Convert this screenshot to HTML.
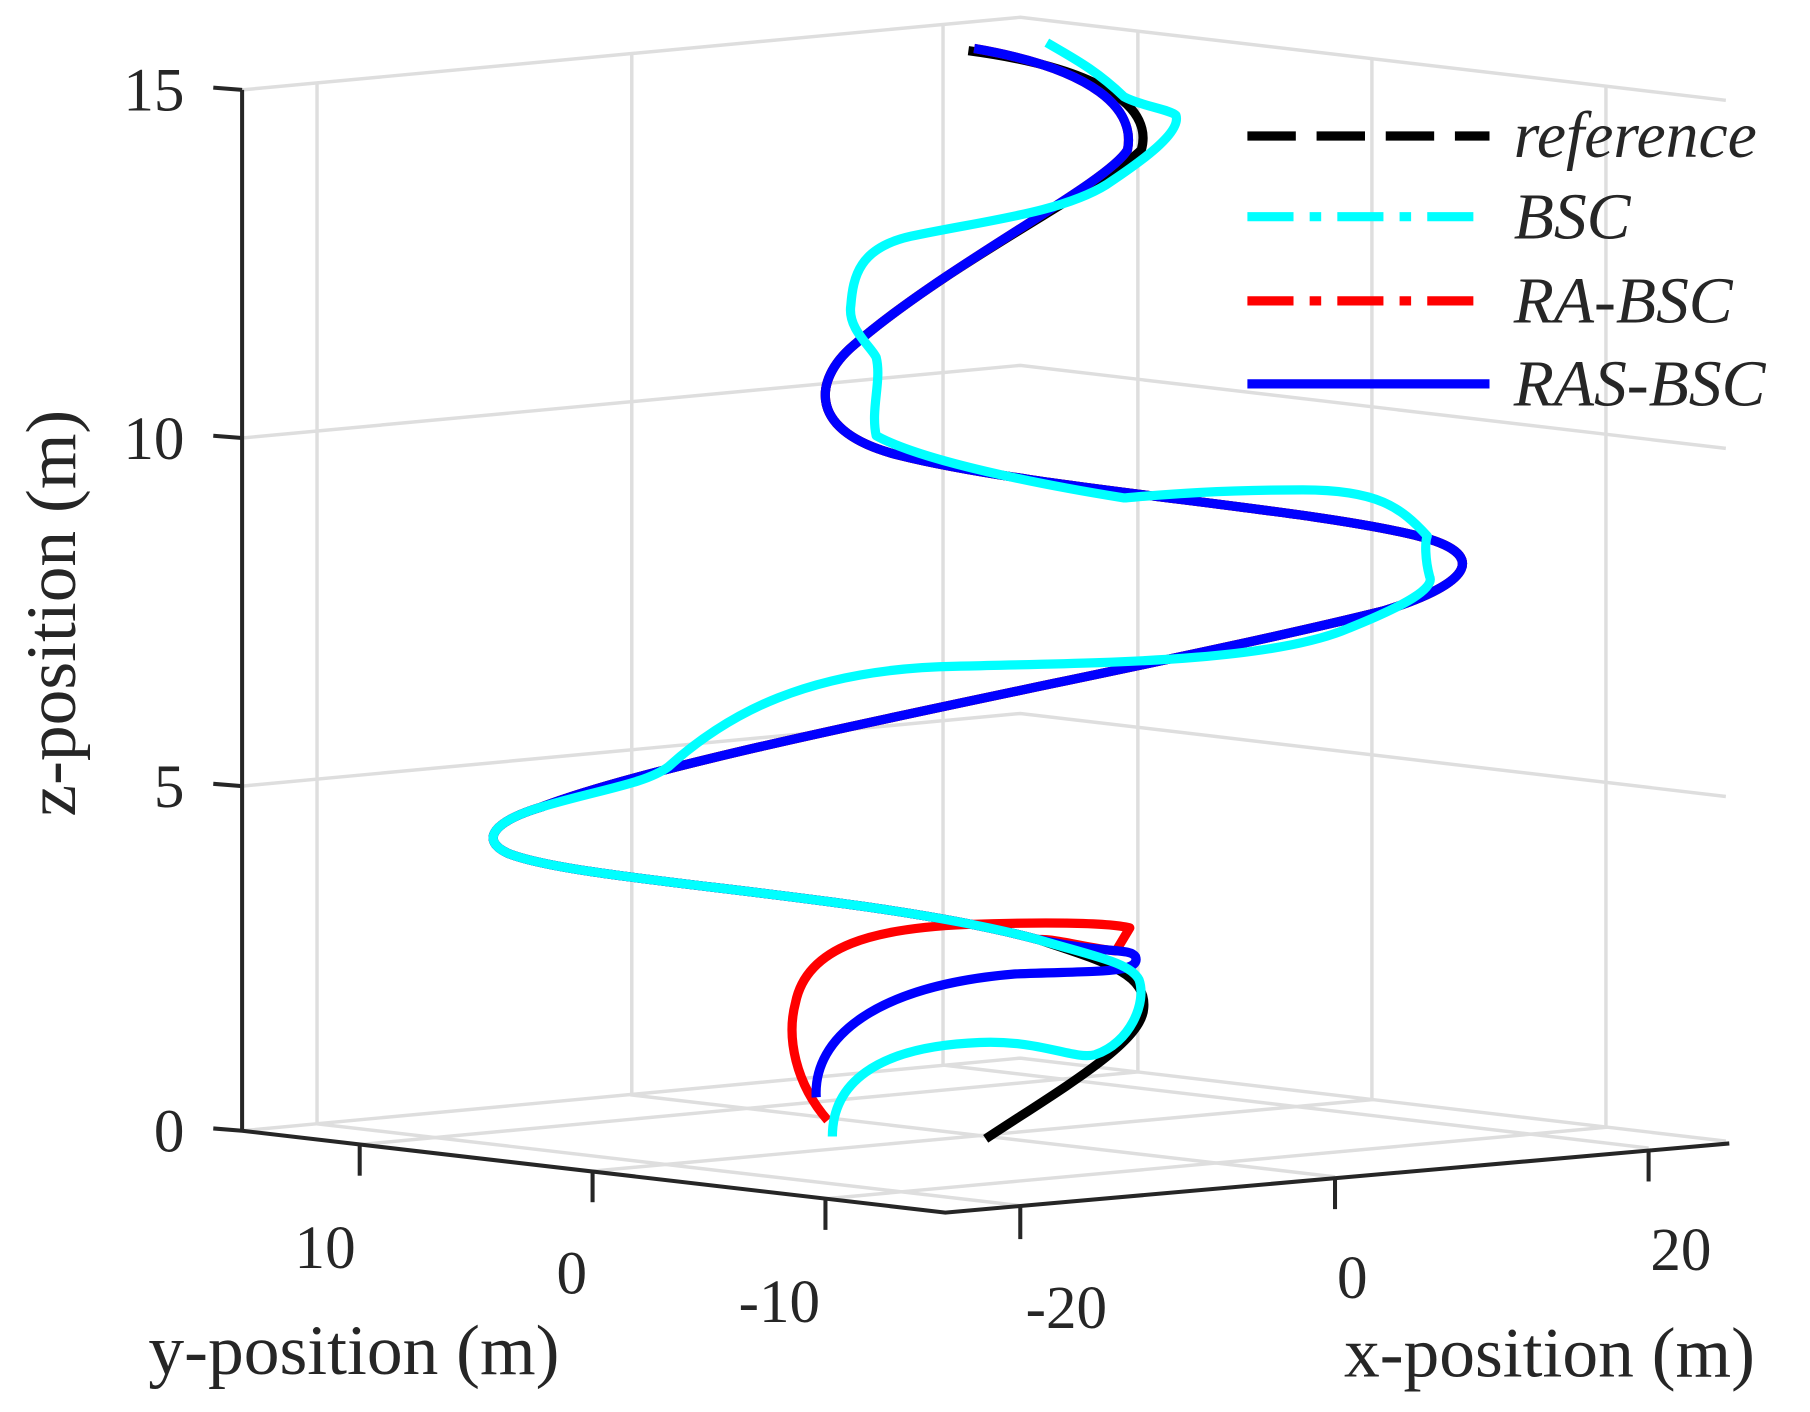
<!DOCTYPE html>
<html><head><meta charset="utf-8"><style>
html,body{margin:0;padding:0;background:#fff;}
svg{display:block;}
text{font-family:"Liberation Serif",serif;fill:#262626;}
</style></head><body>
<svg width="1810" height="1412" viewBox="0 0 1570 1225" preserveAspectRatio="none" xmlns="http://www.w3.org/2000/svg">
<g stroke="#dedede" stroke-width="3" fill="none">
<polyline points="210,78 885,15 1497,87"/>
<polyline points="210,380 885,317 1497,389"/>
<polyline points="210,682 885,619 1497,691"/>
<polyline points="210,981 885,918 1497,990"/>
<polyline points="275,72 275,975 885,1046"/>
<polyline points="548,47 548,950 1158,1021"/>
<polyline points="818,21 818,924 1430,996"/>
<polyline points="987,27 987,930 312,993"/>
<polyline points="1190,51 1190,954 514,1016"/>
<polyline points="1393,75 1393,978 716,1040"/>
</g>
<g stroke="#262626" stroke-width="3.5" fill="none">
<line x1="210" y1="78" x2="210" y2="981"/>
<line x1="185" y1="76" x2="210" y2="78"/>
<line x1="185" y1="378" x2="210" y2="380"/>
<line x1="185" y1="680" x2="210" y2="682"/>
<polyline points="185,979 210,981 820,1052 1500,992"/>
<line x1="312" y1="993" x2="312" y2="1020"/>
<line x1="514" y1="1016" x2="514" y2="1043"/>
<line x1="716" y1="1040" x2="716" y2="1067"/>
<line x1="885" y1="1046" x2="885" y2="1075"/>
<line x1="1158" y1="1022" x2="1158" y2="1049"/>
<line x1="1430" y1="998" x2="1430" y2="1025"/>
</g>
<g font-size="53">
<text x="160" y="96" text-anchor="end">15</text>
<text x="160" y="398" text-anchor="end">10</text>
<text x="160" y="700" text-anchor="end">5</text>
<text x="160" y="999" text-anchor="end">0</text>
<text x="282" y="1100" text-anchor="middle">10</text>
<text x="496" y="1122" text-anchor="middle">0</text>
<text x="676" y="1147" text-anchor="middle">-10</text>
<text x="925" y="1152" text-anchor="middle">-20</text>
<text x="1173" y="1126" text-anchor="middle">0</text>
<text x="1458" y="1102" text-anchor="middle">20</text>
</g>
<g font-size="62">
<text x="307" y="1192" text-anchor="middle">y-position (m)</text>
<text x="1344" y="1194" text-anchor="middle">x-position (m)</text>
<text transform="translate(65,532) rotate(-90)" text-anchor="middle">z-position (m)</text>
</g>
<g fill="none" stroke-width="8" stroke-linejoin="round" stroke-linecap="butt">
<path stroke="#000" d="M855,988 C920,945 990,905 992,875 C995,845 960,835 900,815 C750,775 500,765 440,740 C415,728 430,712 470,700 C600,650 1000,580 1200,530 C1280,505 1290,480 1230,465 C1130,440 900,425 780,395 C700,375 705,330 740,300 C820,230 960,160 990,130 C1000,95 960,60 840,44"/>
<path stroke="#ff0000" d="M718,972 C690,940 682,900 690,870 C700,820 760,805 840,802 C900,800 960,800 980,805 L968,825 C940,822 920,815 900,815 C750,775 500,765 440,740 C415,728 430,712 470,700 C600,650 1000,580 1200,530 C1280,505 1290,480 1230,465 C1130,440 900,425 780,395 C700,375 705,330 740,300 C820,230 960,160 978,130 C985,95 950,60 845,42"/>
<path stroke="#0000ff" d="M708,952 C705,900 760,855 880,845 C950,842 990,845 985,830 C980,822 960,828 900,815 C750,775 500,765 440,740 C415,728 430,712 470,700 C600,650 1000,580 1200,530 C1280,505 1290,480 1230,465 C1130,440 900,425 780,395 C700,375 705,330 740,300 C820,230 960,160 978,130 C985,95 950,60 845,42"/>
<path stroke="#00ffff" d="M722,986 C722,940 760,910 840,905 C900,900 930,920 950,915 C980,905 995,870 988,850 C980,835 950,830 900,815 C750,775 500,765 440,740 C415,728 430,712 470,700 C520,685 560,680 580,665 C630,620 700,580 830,578 C950,575 1100,575 1170,545 C1220,525 1245,510 1240,500 C1236,485 1236,470 1238,465 C1215,440 1195,425 1130,425 C1050,425 1000,430 975,432 C900,420 800,400 760,378 C755,355 765,330 760,310 C755,300 735,285 738,265 C740,240 745,215 790,205 C850,192 920,185 960,160 C990,140 1025,115 1020,100 C1015,95 990,92 975,84 C950,60 930,50 908,37"/>
</g>
<g stroke-width="8" fill="none">
<line x1="1082" y1="118" x2="1292" y2="118" stroke="#000" stroke-dasharray="42,18"/>
<line x1="1082" y1="188" x2="1292" y2="188" stroke="#00ffff" stroke-dasharray="40,14,10,14"/>
<line x1="1082" y1="261" x2="1292" y2="261" stroke="#ff0000" stroke-dasharray="40,14,10,14"/>
<line x1="1082" y1="333" x2="1292" y2="333" stroke="#0000ff"/>
</g>
<g font-size="57" font-style="italic">
<text x="1313" y="136">reference</text>
<text x="1313" y="207">BSC</text>
<text x="1313" y="280">RA-BSC</text>
<text x="1313" y="352">RAS-BSC</text>
</g>
</svg>
</body></html>
